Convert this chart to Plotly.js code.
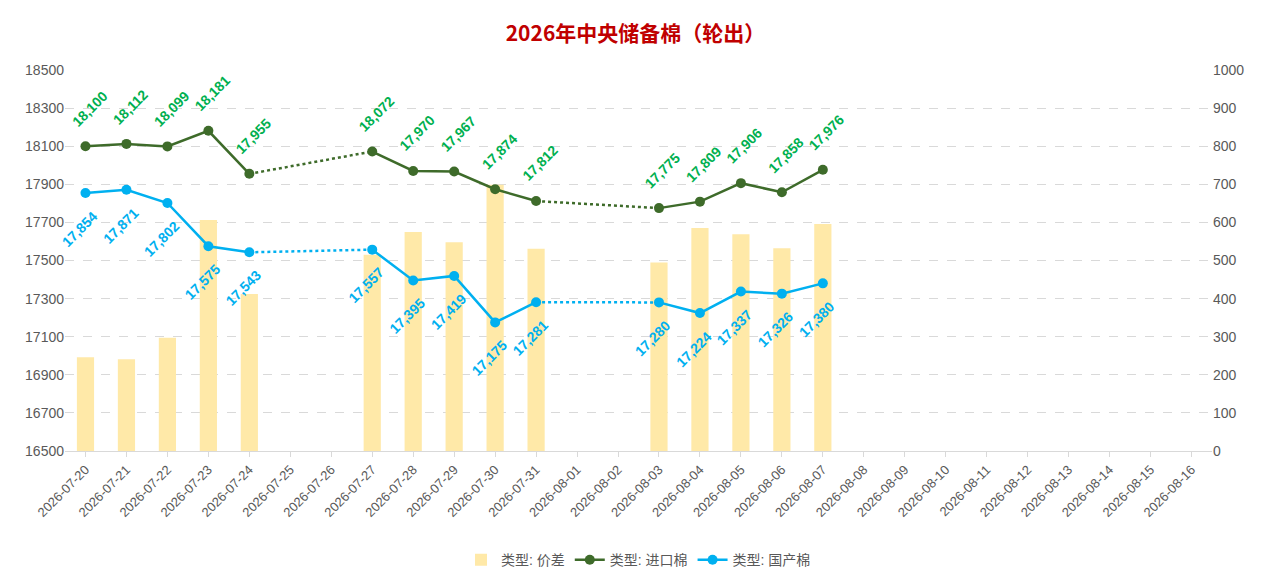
<!DOCTYPE html>
<html><head><meta charset="utf-8">
<script src="https://cdn.plot.ly/plotly-3.0.1.min.js"></script>
</head><body style="margin:0">
<div id="plot" style="width:1271px;height:582px"></div>
<script>
const dates = ['2026-07-20','2026-07-21','2026-07-22','2026-07-23','2026-07-24','2026-07-25','2026-07-26','2026-07-27','2026-07-28','2026-07-29','2026-07-30','2026-07-31','2026-08-01','2026-08-02','2026-08-03','2026-08-04','2026-08-05','2026-08-06','2026-08-07','2026-08-08','2026-08-09','2026-08-10','2026-08-11','2026-08-12','2026-08-13','2026-08-14','2026-08-15','2026-08-16'];
const imported = [18100,18112,18099,18181,17955,null,null,18072,17970,17967,17874,17812,null,null,17775,17809,17906,17858,17976];
const domestic = [17854,17871,17802,17575,17543,null,null,17557,17395,17419,17175,17281,null,null,17280,17224,17337,17326,17380];
const spread = imported.map((v, i) => v === null ? null : v - domestic[i]);

const green = '#3e6b2a', blue = '#00b0f0';
// split into solid runs and dotted bridges over gaps
function segments(vals) {
    const pts = vals.map((v, i) => [dates[i], v]).filter(p => p[1] !== null);
    const idx = vals.map((v, i) => v === null ? -1 : i).filter(i => i >= 0);
    const solid = [], dotted = [];
    let run = [pts[0]];
    for (let k = 1; k < pts.length; k++) {
        if (idx[k] - idx[k - 1] > 1) { solid.push(run); dotted.push([pts[k - 1], pts[k]]); run = []; }
        run.push(pts[k]);
    }
    solid.push(run);
    return { solid, dotted };
}
const data = [{ type: 'bar', name: '类型: 价差', x: dates, y: spread, yaxis: 'y', marker: { color: '#ffe9a8' }, width: 0.42 }];
[[imported, green, '类型: 进口棉'], [domestic, blue, '类型: 国产棉']].forEach(([vals, color, name]) => {
    const s = segments(vals);
    s.dotted.forEach(d => data.push({ type: 'scatter', mode: 'lines', yaxis: 'y2', x: d.map(p => p[0]), y: d.map(p => p[1]), line: { color, width: 2.5, dash: 'dot' }, showlegend: false, hoverinfo: 'skip' }));
    s.solid.forEach((r, k) => data.push({ type: 'scatter', mode: 'lines+markers', yaxis: 'y2', name, showlegend: k === 0, legendgroup: name, x: r.map(p => p[0]), y: r.map(p => p[1]), line: { color, width: 2.5 }, marker: { color, size: 10 } }));
});
const annotations = [];
const label = (v, i, color, below) => ({ x: dates[i], y: v, yref: 'y2', text: '<b>' + v.toLocaleString('en-US') + '</b>', textangle: -45, showarrow: false, xanchor: 'center', yanchor: below ? 'top' : 'bottom', yshift: below ? -12 : 14, xshift: below ? -6 : 4, font: { color, size: 14, family: 'Liberation Sans' } });
imported.forEach((v, i) => { if (v !== null) annotations.push(label(v, i, '#00b050', false)); });
domestic.forEach((v, i) => { if (v !== null) annotations.push(label(v, i, blue, true)); });
const layout = {
    width: 1271, height: 582,
    font: { family: 'Liberation Sans, Noto Sans CJK SC', color: '#595959', size: 14 },
    title: { text: '<b>2026年中央储备棉（轮出）</b>', x: 0.5, y: 0.955, font: { color: '#c00000', size: 21, family: 'Noto Sans CJK SC' } },
    margin: { l: 65, r: 59, t: 70, b: 131 },
    plot_bgcolor: 'white', paper_bgcolor: 'white',
    xaxis: { type: 'category', categoryarray: dates, tickangle: -45, range: [-0.5, 27.5], automargin: false, showgrid: false, showline: true, linecolor: '#d9d9d9', ticks: 'outside', tickcolor: '#d9d9d9', tickfont: { size: 13 } },
    yaxis: { range: [0, 1000], dtick: 100, side: 'right', showgrid: false, zeroline: false },
    yaxis2: { range: [16500, 18500], dtick: 200, tick0: 16500, tickformat: 'd', overlaying: 'y', side: 'left', showgrid: true, gridcolor: '#d9d9d9', griddash: 'dash', zeroline: false },
    legend: { orientation: 'h', x: 0.5, xanchor: 'center', yref: 'container', y: 0.01, yanchor: 'bottom', font: { size: 14 } },
    annotations,
};
Plotly.newPlot('plot', data, layout, { displayModeBar: false });
</script>
</body></html>
